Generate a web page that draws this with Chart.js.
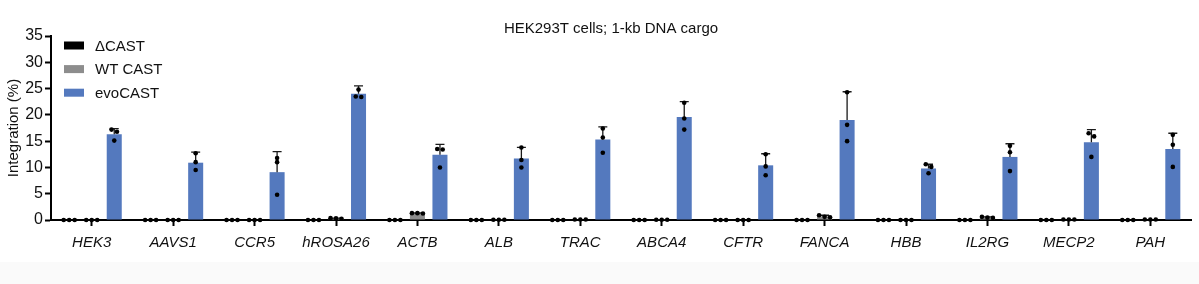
<!DOCTYPE html>
<html>
<head>
<meta charset="utf-8">
<script src="https://cdn.jsdelivr.net/npm/chart.js@4.4.1/dist/chart.umd.min.js"></script>
<style>
  html, body { margin: 0; padding: 0; background: #fff; }
  #wrap {
    width: 1199px; height: 284px; position: relative;
    background: linear-gradient(to bottom, #fff 0, #fff 262px, #fafafa 262px);
  }
</style>
</head>
<body>
<div id="wrap"><canvas id="integrationChart"></canvas></div>
<script>
const genes = ['HEK3', 'AAVS1', 'CCR5', 'hROSA26', 'ACTB', 'ALB', 'TRAC', 'ABCA4', 'CFTR', 'FANCA', 'HBB', 'IL2RG', 'MECP2', 'PAH'];
const yTicks = [0, 5, 10, 15, 20, 25, 30, 35];

// ΔCAST
const deltaMean = [0, 0, 0, 0, 0, 0, 0, 0, 0, 0, 0, 0, 0, 0];
const deltaErr = [0, 0, 0, 0, 0, 0, 0, 0, 0, 0, 0, 0, 0, 0];
const deltaReps = genes.map(() => [0, 0, 0]);

// WT CAST
const wtMean = [0, 0, 0, 0.3, 1.3, 0.05, 0.1, 0.05, 0, 0.7, 0, 0.5, 0.1, 0.1];
const wtErr = [0, 0, 0, 0.05, 0.05, 0, 0, 0, 0, 0.2, 0, 0.1, 0, 0];
const wtReps = [
  [0, 0, 0], [0, 0, 0], [0, 0, 0], [0.3, 0.35, 0.25], [1.3, 1.3, 1.25],
  [0.05, 0.05, 0.05], [0.1, 0.1, 0.1], [0.05, 0.05, 0.05], [0, 0, 0],
  [0.6, 0.9, 0.5], [0, 0, 0], [0.45, 0.6, 0.4], [0.1, 0.1, 0.1], [0.1, 0.1, 0.1]
];

// evoCAST
const evoMean = [16.3, 10.9, 9.1, 24.0, 12.4, 11.7, 15.3, 19.6, 10.4, 19.0, 9.8, 12.0, 14.8, 13.5];
const evoErr = [1.1, 2.0, 3.9, 1.5, 2.0, 2.1, 2.4, 2.9, 2.2, 5.4, 0.8, 2.5, 2.4, 3.0];
const evoReps = [
  [17.2, 16.8, 15.1], [12.7, 11.0, 9.5], [11.8, 11.0, 4.8], [24.8, 23.5, 23.4],
  [13.5, 13.4, 10.0], [13.8, 11.4, 10.0], [17.4, 15.7, 12.8], [22.3, 19.3, 17.2],
  [12.5, 10.2, 8.5], [24.3, 18.1, 15.0], [10.6, 10.1, 8.9], [14.1, 12.9, 9.3],
  [16.5, 15.9, 12.0], [16.2, 14.3, 10.1]
];

const fontFamily = '"Liberation Sans", Arial, Helvetica, sans-serif';

// spread dots that would overlap sideways, like a scatter dot plot
function spreadDots(ys) {
  const idx = ys.map((y, i) => i).sort((a, b) => ys[a] - ys[b]);
  const offsets = new Array(ys.length).fill(0);
  let group = [idx[0]];
  const flush = () => {
    const n = group.length;
    group.forEach((g, k) => { offsets[g] = (k - (n - 1) / 2) * 5.5; });
  };
  for (let k = 1; k < idx.length; k++) {
    if (ys[idx[k]] - ys[group[group.length - 1]] < 4) {
      group.push(idx[k]);
    } else {
      flush();
      group = [idx[k]];
    }
  }
  flush();
  return offsets;
}

const replicatePlugin = {
  id: 'replicates',
  afterDatasetsDraw(chart) {
    const ctx = chart.ctx;
    const yScale = chart.scales.y;
    chart.data.datasets.forEach((ds, i) => {
      const meta = chart.getDatasetMeta(i);
      meta.data.forEach((bar, j) => {
        const cx = bar.x;
        const err = ds.errors[j];
        ctx.save();
        if (err > 0) {
          const yMean = yScale.getPixelForValue(ds.data[j]);
          const yTop = yScale.getPixelForValue(ds.data[j] + err);
          ctx.strokeStyle = '#1a1a1a';
          ctx.lineWidth = 1.3;
          ctx.beginPath();
          ctx.moveTo(cx, yMean);
          ctx.lineTo(cx, yTop);
          ctx.moveTo(cx - 4.5, yTop);
          ctx.lineTo(cx + 4.5, yTop);
          ctx.stroke();
        }
        const ys = ds.replicates[j].map(v => yScale.getPixelForValue(v));
        const offs = spreadDots(ys);
        ctx.fillStyle = '#000';
        ys.forEach((y, k) => {
          ctx.beginPath();
          ctx.arc(cx + offs[k], y, 2.3, 0, Math.PI * 2);
          ctx.fill();
        });
        ctx.restore();
      });
    });
  }
};

const legendPlugin = {
  id: 'insideLegend',
  afterDraw(chart) {
    const ctx = chart.ctx;
    ctx.save();
    ctx.font = '15px ' + fontFamily;
    ctx.textBaseline = 'middle';
    chart.data.datasets.forEach((ds, i) => {
      const y = 45.5 + i * 23.6;
      ctx.fillStyle = ds.backgroundColor;
      ctx.fillRect(64, y - 4, 20, 8);
      ctx.fillStyle = '#111';
      ctx.fillText(ds.label, 95, y + 1);
    });
    ctx.restore();
  }
};

const titlePlugin = {
  id: 'topTitle',
  afterDraw(chart) {
    const ctx = chart.ctx;
    ctx.save();
    ctx.font = '15px ' + fontFamily;
    ctx.fillStyle = '#111';
    ctx.textAlign = 'center';
    ctx.textBaseline = 'middle';
    ctx.fillText('HEK293T cells; 1-kb DNA cargo', 611, 29);
    ctx.restore();
  }
};

new Chart(document.getElementById('integrationChart'), {
  type: 'bar',
  data: {
    labels: genes,
    datasets: [
      { label: 'ΔCAST', data: deltaMean, errors: deltaErr, replicates: deltaReps, backgroundColor: '#000000' },
      { label: 'WT CAST', data: wtMean, errors: wtErr, replicates: wtReps, backgroundColor: '#8d8d8d' },
      { label: 'evoCAST', data: evoMean, errors: evoErr, replicates: evoReps, backgroundColor: '#5479be' }
    ]
  },
  options: {
    responsive: true,
    maintainAspectRatio: false,
    animation: false,
    layout: { padding: { top: 36, right: 8, left: 0, bottom: 0 } },
    datasets: {
      bar: { barPercentage: 0.667, categoryPercentage: 0.83, borderWidth: 0 }
    },
    scales: {
      x: {
        afterFit: (scale) => { scale.height = 64; },
        grid: { display: true, offset: false, drawOnChartArea: false, drawTicks: true, tickLength: 6, tickWidth: 2, tickColor: '#000' },
        border: { color: '#000', width: 2 },
        ticks: {
          color: '#111',
          padding: 8,
          maxRotation: 0,
          autoSkip: false,
          font: { family: fontFamily, size: 15, style: 'italic' }
        }
      },
      y: {
        min: 0,
        max: 35,
        afterFit: (scale) => { scale.width = 51; },
        afterBuildTicks: (scale) => { scale.ticks = yTicks.map(v => ({ value: v })); },
        grid: { display: true, drawOnChartArea: false, drawTicks: true, tickLength: 6, tickWidth: 2, tickColor: '#000' },
        border: { color: '#000', width: 2 },
        ticks: {
          color: '#111',
          padding: 2,
          font: { family: fontFamily, size: 16 }
        },
        title: {
          display: true,
          text: 'Integration (%)',
          color: '#111',
          padding: { top: 5, bottom: 0 },
          font: { family: fontFamily, size: 15 }
        }
      }
    },
    plugins: {
      legend: { display: false },
      tooltip: { enabled: false },
      title: { display: false }
    }
  },
  plugins: [replicatePlugin, legendPlugin, titlePlugin]
});
</script>
</body>
</html>
